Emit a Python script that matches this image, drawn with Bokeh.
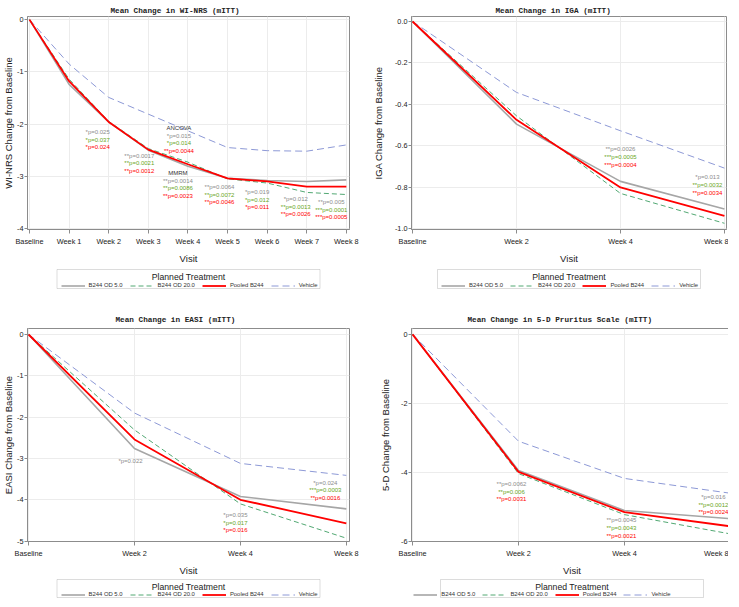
from bokeh.plotting import figure
from bokeh.models import (Range1d, FixedTicker, Legend, LegendItem, ColumnDataSource,
                          BoxAnnotation, Label)
from bokeh.layouts import gridplot
from bokeh.embed import file_html
from bokeh.resources import INLINE
from bokeh.core.properties import value

# ---------------- data ----------------
treatments = ["B244 OD 5.0", "B244 OD 20.0", "Pooled B244", "Vehicle"]
legend_title = "Planned Treatment"

visits_weekly = ["Baseline", "Week 1", "Week 2", "Week 3", "Week 4",
                 "Week 5", "Week 6", "Week 7", "Week 8"]
visits_short = ["Baseline", "Week 2", "Week 4", "Week 8"]

# WI-NRS
winrs_od5 = [0, -1.24, -1.96, -2.50, -2.81, -3.04, -3.08, -3.10, -3.07]
winrs_od20 = [0, -1.14, -1.95, -2.47, -2.73, -3.05, -3.13, -3.31, -3.35]
winrs_pooled = [0, -1.18, -1.96, -2.49, -2.77, -3.04, -3.10, -3.20, -3.20]
winrs_vehicle = [0, -0.85, -1.49, -1.81, -2.13, -2.45, -2.51, -2.52, -2.40]
winrs_yticks = [0, -1, -2, -3, -4]
winrs_ytick_labels = ["0", "-1", "-2", "-3", "-4"]

# IGA
iga_od5 = [0, -0.495, -0.771, -0.904]
iga_od20 = [0, -0.455, -0.829, -0.973]
iga_pooled = [0, -0.474, -0.800, -0.937]
iga_vehicle = [0, -0.342, -0.527, -0.707]
iga_yticks = [0.0, -0.2, -0.4, -0.6, -0.8, -1.0]
iga_ytick_labels = ["0.0", "-0.2", "-0.4", "-0.6", "-0.8", "-1.0"]

# EASI
easi_od5 = [0, -2.76, -3.92, -4.22]
easi_od20 = [0, -2.31, -4.10, -4.93]
easi_pooled = [0, -2.54, -4.00, -4.57]
easi_vehicle = [0, -1.90, -3.12, -3.41]
easi_yticks = [0, -1, -2, -3, -4, -5]
easi_ytick_labels = ["0", "-1", "-2", "-3", "-4", "-5"]

# 5-D pruritus
fived_od5 = [0, -3.95, -5.11, -5.35]
fived_od20 = [0, -4.04, -5.23, -5.79]
fived_pooled = [0, -3.99, -5.16, -5.57]
fived_vehicle = [0, -3.10, -4.18, -4.61]
fived_yticks = [0, -2, -4, -6]
fived_ytick_labels = ["0", "-2", "-4", "-6"]

# p-value annotations (vs vehicle)
winrs_p_visit = ["Week 2", "Week 3", "Week 4", "Week 4", "Week 5", "Week 6", "Week 7", "Week 8"]
winrs_p_head = ["", "", "ANCOVA", "MMRM", "", "", "", ""]
winrs_p_od5 = ["*p=0.025", "**p=0.0017", "*p=0.015", "**p=0.0014", "**p=0.0064", "*p=0.019", "*p=0.012", "**p=0.005"]
winrs_p_od20 = ["*p=0.037", "**p=0.0021", "*p=0.014", "**p=0.0086", "**p=0.0072", "*p=0.012", "**p=0.0013", "***p=0.0001"]
winrs_p_pooled = ["*p=0.024", "**p=0.0012", "**p=0.0044", "**p=0.0023", "**p=0.0046", "*p=0.011", "**p=0.0026", "***p=0.0005"]

iga_p_visit = ["Week 4", "Week 8"]
iga_p_od5 = ["**p=0.0026", "*p=0.013"]
iga_p_od20 = ["***p=0.0005", "**p=0.0032"]
iga_p_pooled = ["***p=0.0004", "**p=0.0034"]

easi_p_visit = ["Week 2", "Week 4", "Week 8"]
easi_p_od5 = ["*p=0.022", "*p=0.035", "*p=0.024"]
easi_p_od20 = ["", "*p=0.017", "***p=0.0003"]
easi_p_pooled = ["", "*p=0.016", "**p=0.0016"]

fived_p_visit = ["Week 2", "Week 4", "Week 8"]
fived_p_od5 = ["**p=0.0062", "**p=0.0045", "*p=0.016"]
fived_p_od20 = ["**p=0.006", "**p=0.0043", "**p=0.0012"]
fived_p_pooled = ["**p=0.0031", "**p=0.0021", "**p=0.0024"]

# ---------------- styling / layout ----------------
LINE_STYLES = [
    dict(line_color="#a6a6a6", line_width=1.6, line_dash="solid"),
    dict(line_color="#52a873", line_width=1.0, line_dash="5 3"),
    dict(line_color="#ff0000", line_width=1.8, line_dash="solid"),
    dict(line_color="#8d99d6", line_width=1.0, line_dash="7 4"),
]
TEXT_COLORS = ["#8c8c8c", "#6aa626", "#ff0000"]
HEAD_COLOR = "#333333"
SANS = "Liberation Sans"
FRAME_H = 213
BOTTOM = 33
LEG_W = 263
NAN = float("nan")


def make_panel(title, title_offset, title_standoff, ylabel, visits, series,
               yticks, ytick_labels, x_pad, y_range, frame_w, borders,
               ylabel_standoff, p_visit, p_head, p_rows, p_layout, p_gap):
    bl, br, bt = borders
    xs = list(range(len(visits)))
    p = figure(frame_width=frame_w, frame_height=FRAME_H, title=title,
               x_range=Range1d(-x_pad[0], len(visits) - 1 + x_pad[1]),
               y_range=Range1d(*y_range),
               output_backend="svg", toolbar_location=None,
               min_border_left=bl, min_border_right=br,
               min_border_top=bt, min_border_bottom=BOTTOM)
    p.title.text_font = "Liberation Mono"
    p.title.text_font_size = "7.7px"
    p.title.text_font_style = "bold"
    p.title.text_color = "#222222"
    p.title.align = "left"
    p.title.offset = title_offset
    p.title.standoff = title_standoff
    p.outline_line_color = "#8c8c8c"
    p.outline_line_width = 1

    p.xaxis.ticker = FixedTicker(ticks=xs)
    p.xaxis.major_label_overrides = {i: v for i, v in enumerate(visits)}
    p.yaxis.ticker = FixedTicker(ticks=yticks)
    p.yaxis.major_label_overrides = {t: l for t, l in zip(yticks, ytick_labels)}
    p.xaxis.axis_label = "Visit"
    p.yaxis.axis_label = ylabel
    for ax in (p.xaxis[0], p.yaxis[0]):
        ax.axis_line_color = "#8c8c8c"
        ax.major_tick_line_color = "#8c8c8c"
        ax.major_tick_in = 0
        ax.minor_tick_line_color = None
        ax.major_label_text_font = SANS
        ax.major_label_text_font_size = "7.3px"
        ax.major_label_text_color = "#222222"
        ax.axis_label_text_font = SANS
        ax.axis_label_text_font_size = "9.5px"
        ax.axis_label_text_font_style = "normal"
        ax.axis_label_text_color = "#222222"
    p.xaxis.major_tick_out = 4
    p.xaxis.major_label_standoff = 3
    p.xaxis.axis_label_standoff = 4
    p.yaxis.major_tick_out = 3
    p.yaxis.major_label_standoff = 1
    p.yaxis.axis_label_standoff = ylabel_standoff
    p.grid.grid_line_color = "#ececec"
    p.grid.grid_line_width = 1

    for k in [3, 0, 1, 2]:
        p.line(xs, series[k], **LINE_STYLES[k])

    # p-value annotations
    for (vis, head, rows), (yy, dx) in zip(zip(p_visit, p_head, zip(*p_rows)), p_layout):
        texts, colors = [], []
        if head:
            texts.append(head)
            colors.append(HEAD_COLOR)
        for t, c in zip(rows, TEXT_COLORS):
            if t:
                texts.append(t)
                colors.append(c)
        n = len(texts)
        src = ColumnDataSource(dict(x=[visits.index(vis)] * n, y=[yy] * n,
                                    text=texts, color=colors,
                                    yo=[i * p_gap for i in range(n)]))
        p.text(x="x", y="y", text="text", text_color="color", y_offset="yo",
               x_offset=dx, source=src, text_font=value(SANS),
               text_font_size="6px", text_align="center", text_baseline="middle")
    return p


def make_legend(frame_w, borders, height, box_bottom, box_top, title_y, items_y):
    bl, br = borders
    q = figure(frame_width=frame_w, frame_height=height,
               x_range=Range1d(0, 1), y_range=Range1d(0, 1),
               x_axis_type=None, y_axis_type=None,
               output_backend="svg", toolbar_location=None,
               min_border_left=bl, min_border_right=br,
               min_border_top=0, min_border_bottom=0)
    q.outline_line_color = None
    q.grid.visible = False
    box_left = (frame_w - LEG_W) / 2
    q.add_layout(BoxAnnotation(left=box_left, right=box_left + LEG_W,
                               top=box_top, bottom=box_bottom,
                               left_units="screen", right_units="screen",
                               top_units="screen", bottom_units="screen",
                               fill_color="white", fill_alpha=1,
                               line_color="#8c8c8c", line_width=1))
    q.add_layout(Label(x=frame_w / 2, y=title_y, x_units="screen", y_units="screen",
                       text=legend_title, text_align="center", text_baseline="middle",
                       text_font=SANS, text_font_size="8.7px", text_color="#222222"))
    # key-only renderers (no visible data) so the legend can show each line style
    rs = [q.line([NAN], [NAN], **LINE_STYLES[k]) for k in range(4)]
    items = [LegendItem(label=treatments[k], renderers=[rs[k]]) for k in range(4)]
    legend = Legend(items=items, orientation="horizontal",
                    location=(box_left + 4, items_y - 3.5),
                    label_text_font=SANS, label_text_font_size="5.9px",
                    label_text_color="#333333",
                    glyph_width=24, glyph_height=7, label_height=7,
                    label_standoff=4, spacing=7, padding=0, margin=0,
                    border_line_color=None, background_fill_alpha=0)
    q.add_layout(legend, "center")
    return q


p1 = make_panel("Mean Change in WI-NRS (mITT)", 83, 4, "WI-NRS Change from Baseline",
                visits_weekly, [winrs_od5, winrs_od20, winrs_pooled, winrs_vehicle],
                winrs_yticks, winrs_ytick_labels, (0.05, 0.08), (-4.02, 0.06),
                322, (22, 18, 16), 0,
                winrs_p_visit, winrs_p_head, [winrs_p_od5, winrs_p_od20, winrs_p_pooled],
                [(-2.16, -11), (-2.61, -9), (-2.08, -9), (-2.94, -10),
                 (-3.21, -8), (-3.31, -10), (-3.44, -11), (-3.50, -15)], 7.5)

p2 = make_panel("Mean Change in IGA (mITT)", 84, 4, "IGA Change from Baseline",
                visits_short, [iga_od5, iga_od20, iga_pooled, iga_vehicle],
                iga_yticks, iga_ytick_labels, (0.01, 0.02), (-1.003, 0.024),
                315, (44, 2, 16), 8,
                iga_p_visit, [""] * 2, [iga_p_od5, iga_p_od20, iga_p_pooled],
                [(-0.617, 0), (-0.752, -17)], 8)

p3 = make_panel("Mean Change in EASI (mITT)", 88, 10, "EASI Change from Baseline",
                visits_short, [easi_od5, easi_od20, easi_pooled, easi_vehicle],
                easi_yticks, easi_ytick_labels, (0.01, 0.03), (-5.01, 0.145),
                322, (22, 18, 39), 0,
                easi_p_visit, [""] * 3, [easi_p_od5, easi_p_od20, easi_p_pooled],
                [(-3.07, -4), (-4.38, -5), (-3.59, -21)], 7.5)

p4 = make_panel("Mean Change in 5-D Pruritus Scale (mITT)", 56, 10, "5-D Change from Baseline",
                visits_short, [fived_od5, fived_od20, fived_pooled, fived_vehicle],
                fived_yticks, fived_ytick_labels, (0.01, 0.02), (-6.01, 0.17),
                321, (38, 2, 39), 7,
                fived_p_visit, [""] * 3, [fived_p_od5, fived_p_od20, fived_p_pooled],
                [(-4.34, -7), (-5.40, -3), (-4.72, -17)], 7.7)

l1 = make_legend(322, (22, 18), 23, 1, 20, 13, 4)
l2 = make_legend(315, (44, 2), 23, 1, 20, 13, 4)
l3 = make_legend(322, (22, 18), 21, 2, 20, 13, 5)
l4 = make_legend(321, (38, 2), 21, 2, 20, 13, 5)

grid = gridplot([[p1, p2], [l1, l2], [p3, p4], [l3, l4]], toolbar_location=None)

open("out.html", "w").write(file_html(grid, INLINE))
